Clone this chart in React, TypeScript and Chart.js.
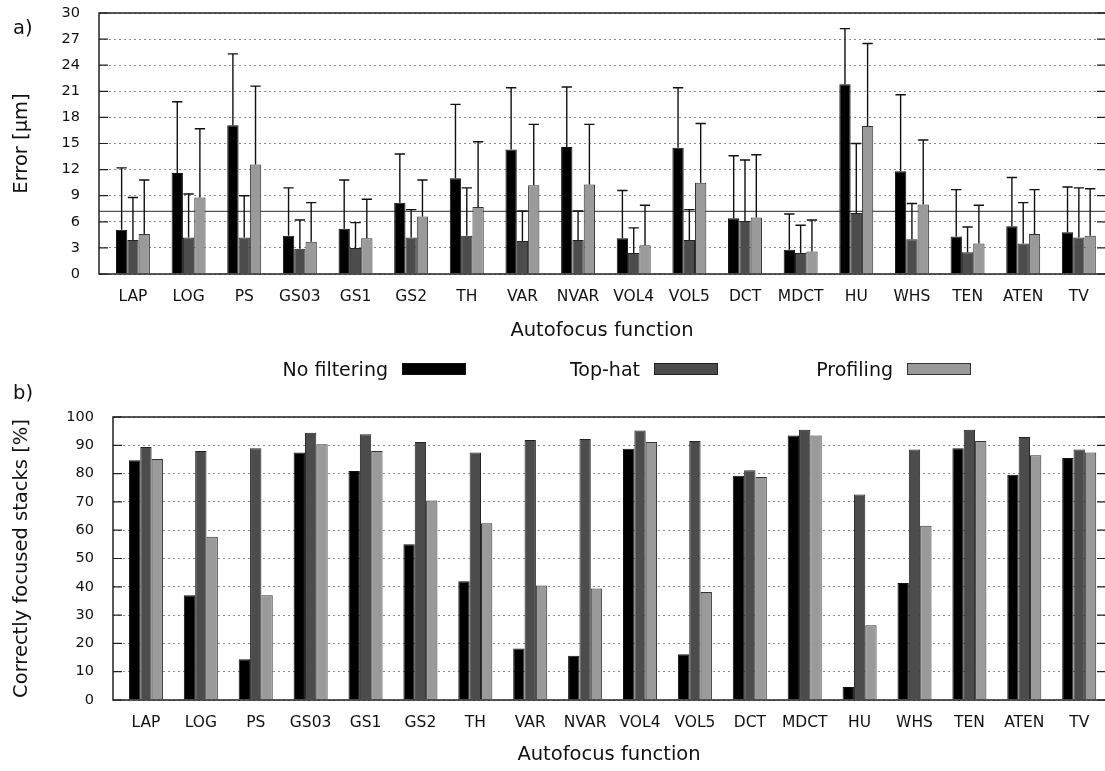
import React, { useEffect, useRef } from 'react';
import { Chart, registerables } from 'chart.js';

Chart.register(...registerables);

// ---------- data ----------
const categories = ['LAP', 'LOG', 'PS', 'GS03', 'GS1', 'GS2', 'TH', 'VAR', 'NVAR', 'VOL4', 'VOL5', 'DCT', 'MDCT', 'HU', 'WHS', 'TEN', 'ATEN', 'TV'];
const seriesNames = ['No filtering', 'Top-hat', 'Profiling'];

// panel a) mean error [µm]
const errNoFiltering = [5.1, 11.6, 17.1, 4.4, 5.2, 8.2, 11.0, 14.3, 14.6, 4.1, 14.5, 6.4, 2.8, 21.8, 11.8, 4.3, 5.5, 4.8];
const errTopHat = [3.9, 4.2, 4.2, 2.9, 3.0, 4.2, 4.4, 3.8, 3.9, 2.4, 3.9, 6.1, 2.4, 7.0, 4.0, 2.5, 3.5, 4.2];
const errProfiling = [4.6, 8.8, 12.6, 3.7, 4.1, 6.6, 7.7, 10.2, 10.3, 3.3, 10.5, 6.5, 2.6, 17.0, 8.0, 3.5, 4.6, 4.4];
// panel a) upper end of the error bars [µm]
const errNoFilteringUpper = [12.2, 19.8, 25.3, 9.9, 10.8, 13.8, 19.5, 21.4, 21.5, 9.6, 21.4, 13.6, 6.9, 28.2, 20.6, 9.7, 11.1, 10.0];
const errTopHatUpper = [8.8, 9.2, 9.0, 6.2, 5.9, 7.4, 9.9, 7.25, 7.25, 5.3, 7.4, 13.1, 5.6, 15.0, 8.1, 5.4, 8.2, 9.9];
const errProfilingUpper = [10.8, 16.7, 21.6, 8.2, 8.6, 10.8, 15.2, 17.2, 17.2, 7.9, 17.3, 13.7, 6.2, 26.5, 15.4, 7.9, 9.7, 9.8];
const errThreshold = 7.2;
const errTicks = [0, 3, 6, 9, 12, 15, 18, 21, 24, 27, 30];

// panel b) correctly focused stacks [%]
const pctNoFiltering = [84.7, 37.0, 14.4, 87.5, 80.9, 55.0, 42.0, 18.2, 15.6, 88.8, 16.2, 79.2, 93.5, 4.6, 41.3, 89.0, 79.6, 85.5];
const pctTopHat = [89.4, 88.0, 89.0, 94.4, 93.9, 91.2, 87.5, 91.9, 92.2, 95.2, 91.5, 81.2, 95.5, 72.6, 88.5, 95.5, 92.9, 88.5];
const pctProfiling = [85.2, 57.7, 37.0, 90.4, 88.0, 70.5, 62.5, 40.5, 39.4, 91.2, 38.2, 78.8, 93.5, 26.4, 61.6, 91.5, 86.5, 87.5];
const pctTicks = [0, 10, 20, 30, 40, 50, 60, 70, 80, 90, 100];

// ---------- styles ----------
const FONT = '"DejaVu Sans", "Liberation Sans", sans-serif';
const fills = ['#000000', '#4c4c4c', '#9a9a9a'];
const borders = ['#111111', '#222222', '#333333'];
const TEXT = '#111111';
const W = 1105;

const toXY = (vals: number[]) => vals.map((v, i) => ({ x: i, y: v }));

const makeDatasets = (series: number[][], catPct: number) =>
  series.map((vals, k) => ({
    label: seriesNames[k],
    data: toXY(vals),
    backgroundColor: fills[k],
    borderColor: borders[k],
    borderWidth: 1,
    barPercentage: 1,
    categoryPercentage: catPct,
  }));

const xAxis = (min: number, max: number, titlePadBottom: number) => ({
  type: 'linear',
  min,
  max,
  offset: false,
  grid: { display: false, drawTicks: false, offset: false },
  border: { display: false },
  afterBuildTicks: (s: any) => {
    s.ticks = categories.map((_, i) => ({ value: i }));
  },
  ticks: {
    autoSkip: false,
    maxRotation: 0,
    minRotation: 0,
    padding: 14,
    color: TEXT,
    font: { family: FONT, size: 15.5 },
    callback: (v: any) => categories[v] ?? '',
  },
  title: {
    display: true,
    text: 'Autofocus function',
    color: TEXT,
    font: { family: FONT, size: 19.5 },
    padding: { top: 0, bottom: titlePadBottom },
  },
  afterFit: (s: any) => {
    s.height = 70;
    s.paddingLeft = 0;
    s.paddingRight = 0;
    s.paddingTop = 0;
    s.paddingBottom = 0;
  },
});

const yAxis = (max: number, ticks: number[], title: string, width: number) => ({
  type: 'linear',
  min: 0,
  max,
  afterBuildTicks: (s: any) => {
    s.ticks = ticks.map((v) => ({ value: v }));
  },
  grid: { color: '#8c8c8c', lineWidth: 1, drawTicks: false },
  border: { display: false, dash: [2, 3] },
  ticks: {
    padding: 19,
    color: TEXT,
    font: { family: FONT, size: 14.5 },
  },
  title: {
    display: true,
    text: title,
    color: TEXT,
    font: { family: FONT, size: 19.5 },
    padding: { top: 10, bottom: 0 },
  },
  afterFit: (s: any) => {
    s.width = width;
    s.paddingLeft = 0;
    s.paddingRight = 0;
    s.paddingTop = 0;
    s.paddingBottom = 0;
  },
});

// frame, inward ticks, optional reference line, panel label, optional legend
const framePlugin = {
  id: 'frame',
  beforeDatasetsDraw(chart: any, _args: any, opts: any) {
    if (opts.refLine == null) return;
    const { ctx, chartArea } = chart;
    const py = chart.scales.y.getPixelForValue(opts.refLine);
    ctx.save();
    ctx.strokeStyle = '#555555';
    ctx.lineWidth = 1.2;
    ctx.beginPath();
    ctx.moveTo(chartArea.left, py);
    ctx.lineTo(chartArea.right, py);
    ctx.stroke();
    ctx.restore();
  },
  afterDatasetsDraw(chart: any) {
    const { ctx, chartArea } = chart;
    const { left, right, top, bottom } = chartArea;
    const ys = chart.scales.y;
    ctx.save();
    ctx.strokeStyle = '#222222';
    ctx.lineWidth = 1.5;
    ctx.beginPath();
    ctx.moveTo(right + 2, top);
    ctx.lineTo(left, top);
    ctx.lineTo(left, bottom);
    ctx.lineTo(right + 2, bottom);
    ctx.stroke();
    ctx.lineWidth = 1.2;
    ctx.beginPath();
    ys.ticks.forEach((t: any) => {
      const p = ys.getPixelForValue(t.value);
      ctx.moveTo(left, p);
      ctx.lineTo(left + 9, p);
      ctx.moveTo(right - 8, p);
      ctx.lineTo(right, p);
    });
    ctx.stroke();
    ctx.restore();
  },
  afterDraw(chart: any, _args: any, opts: any) {
    const { ctx } = chart;
    ctx.save();
    ctx.fillStyle = TEXT;
    ctx.textBaseline = 'alphabetic';
    ctx.textAlign = 'left';
    ctx.font = `19.5px ${FONT}`;
    if (opts.panel) ctx.fillText(opts.panel.text, opts.panel.x, opts.panel.y);
    if (opts.legend) {
      const { y, boxes } = opts.legend;
      ctx.font = `19px ${FONT}`;
      ctx.textAlign = 'right';
      seriesNames.forEach((name, k) => {
        const bx = boxes[k];
        ctx.fillStyle = TEXT;
        ctx.fillText(name, bx - 14, y);
        ctx.fillStyle = fills[k];
        ctx.fillRect(bx, y - 13, 64, 12);
        ctx.strokeStyle = borders[k];
        ctx.lineWidth = 1;
        ctx.strokeRect(bx + 0.5, y - 12.5, 63, 11);
      });
    }
    ctx.restore();
  },
};

const errorBarPlugin = {
  id: 'errbars',
  afterDatasetsDraw(chart: any, _args: any, opts: any) {
    const { ctx } = chart;
    const ys = chart.scales.y;
    ctx.save();
    ctx.strokeStyle = '#111111';
    ctx.lineWidth = 1.4;
    chart.data.datasets.forEach((_ds: any, di: number) => {
      const meta = chart.getDatasetMeta(di);
      const uppers: number[] = opts.uppers[di];
      meta.data.forEach((bar: any, i: number) => {
        const { x, y, width } = bar.getProps(['x', 'y', 'width'], true);
        const yt = ys.getPixelForValue(uppers[i]);
        const half = Math.max(width / 2 - 0.5, 3);
        ctx.beginPath();
        ctx.moveTo(x, y);
        ctx.lineTo(x, yt);
        ctx.moveTo(x - half, yt);
        ctx.lineTo(x + half, yt);
        ctx.stroke();
      });
    });
    ctx.restore();
  },
};

function ChartA() {
  const ref = useRef<HTMLCanvasElement>(null);
  useEffect(() => {
    const chart = new Chart(ref.current as HTMLCanvasElement, {
      type: 'bar',
      data: { datasets: makeDatasets([errNoFiltering, errTopHat, errProfiling], 0.61) as any },
      options: {
        animation: false,
        responsive: false,
        layout: { padding: { top: 13, bottom: 1, left: 0, right: 0 } },
        plugins: {
          legend: { display: false },
          tooltip: { enabled: false },
          frame: { refLine: errThreshold, panel: { text: 'a)', x: 13, y: 34 } },
          errbars: { uppers: [errNoFilteringUpper, errTopHatUpper, errProfilingUpper] },
        } as any,
        scales: {
          x: xAxis(-0.61, 17.47, 1) as any,
          y: yAxis(30, errTicks, 'Error [µm]', 99) as any,
        },
      },
      plugins: [framePlugin, errorBarPlugin],
    });
    return () => chart.destroy();
  }, []);
  return <canvas ref={ref} width={W} height={345} style={{ position: 'absolute', left: 0, top: 0, width: W, height: 345 }} />;
}

function ChartB() {
  const ref = useRef<HTMLCanvasElement>(null);
  useEffect(() => {
    const chart = new Chart(ref.current as HTMLCanvasElement, {
      type: 'bar',
      data: { datasets: makeDatasets([pctNoFiltering, pctTopHat, pctProfiling], 0.62) as any },
      options: {
        animation: false,
        responsive: false,
        layout: { padding: { top: 72, bottom: 1, left: 0, right: 0 } },
        plugins: {
          legend: { display: false },
          tooltip: { enabled: false },
          frame: {
            panel: { text: 'b)', x: 13, y: 54 },
            legend: { y: 31, boxes: [402, 654, 907] },
          },
        } as any,
        scales: {
          x: xAxis(-0.6, 17.47, 3) as any,
          y: yAxis(100, pctTicks, 'Correctly focused stacks [%]', 113) as any,
        },
      },
      plugins: [framePlugin],
    });
    return () => chart.destroy();
  }, []);
  return <canvas ref={ref} width={W} height={426} style={{ position: 'absolute', left: 0, top: 345, width: W, height: 426 }} />;
}

export default function App() {
  return (
    <div style={{ position: 'absolute', left: 0, top: 0, width: W, height: 771, background: '#ffffff', overflow: 'hidden' }}>
      <ChartA />
      <ChartB />
    </div>
  );
}
